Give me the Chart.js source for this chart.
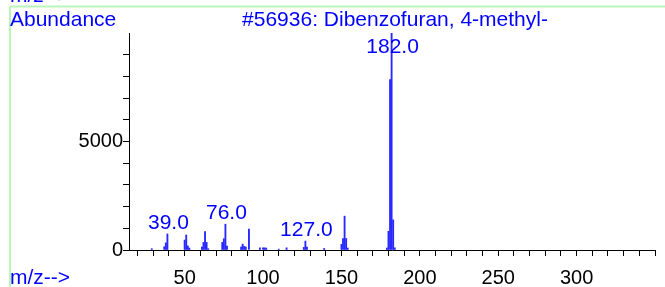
<!DOCTYPE html>
<html>
<head>
<meta charset="utf-8">
<script src="https://cdn.jsdelivr.net/npm/chart.js@4"></script>
<style>
    body { margin: 0; background: #fff; }
    canvas { display: block; }
</style>
</head>
<body>
<canvas id="msChart" width="665" height="287"></canvas>
<script>
// ============================================================
// DATA
// ============================================================
const mzValues  = [29, 37, 38, 39, 50, 51, 52, 53, 61, 62, 63, 64, 65, 74, 75, 76, 77,
                   86, 87, 88, 89, 91, 98, 100, 101, 102, 110, 115, 126, 127, 128, 139,
                   150, 151, 152, 153, 154, 179, 180, 181, 182, 183, 184];
const abundance = [60, 150, 330, 740, 460, 690, 190, 90, 140, 350, 850, 350, 60, 350, 520, 1190, 180,
                   140, 270, 170, 140, 960, 100, 100, 100, 90, 40, 100, 120, 410, 140, 70,
                   260, 530, 1560, 530, 90, 90, 860, 7850, 9999, 1390, 100];

const peakLabels = [39, 76, 127, 182];
const xTicks = [20, 30, 40, 50, 60, 70, 80, 90, 100, 110, 120, 130, 140, 150, 160, 170, 180,
                190, 200, 210, 220, 230, 240, 250, 260, 270, 280, 290, 300, 310, 320, 330, 340, 350];
const xTickLabels = [50, 100, 150, 200, 250, 300];
const yTicks = [0, 1000, 2000, 3000, 4000, 5000, 6000, 7000, 8000, 9000];
const yTickLabels = [0, 5000];

const compoundTitle = '#56936: Dibenzofuran, 4-methyl-';
const FONT = 'Liberation Sans, Arial, sans-serif';
const BLUE = '#0000ff';

// ============================================================
// TEXT + FRAME PLUGIN
// ============================================================
const decorPlugin = {
    id: 'decor',
    beforeDraw(chart) {
        const ctx = chart.ctx;
        ctx.save();
        ctx.strokeStyle = 'rgb(185, 245, 185)';
        ctx.lineWidth = 2;
        ctx.beginPath();
        ctx.moveTo(10, 6.5);
        ctx.lineTo(665, 6.5);
        ctx.moveTo(10, 6.5);
        ctx.lineTo(10, 287);
        ctx.stroke();
        ctx.restore();
    },
    afterDraw(chart) {
        const ctx = chart.ctx;
        const xs = chart.scales.x;
        const ys = chart.scales.y;
        ctx.save();
        ctx.fillStyle = BLUE;
        ctx.font = '21px ' + FONT;
        ctx.textBaseline = 'alphabetic';

        ctx.textAlign = 'left';
        ctx.fillText('m/z-->', 10, 2);
        ctx.fillText('Abundance', 10, 26);
        ctx.fillText('m/z-->', 10, 284);

        ctx.textAlign = 'center';
        ctx.fillText(compoundTitle, 395, 26);

        // peak labels
        peakLabels.forEach(m => {
            const i = mzValues.indexOf(m);
            if (i < 0) return;
            const px = xs.getPixelForValue(m);
            const py = ys.getPixelForValue(abundance[i]);
            ctx.fillText(m.toFixed(1), px + 1, Math.max(py - 5, 53));
        });
        ctx.restore();
    }
};

// ============================================================
// CHART
// ============================================================
new Chart(document.getElementById('msChart').getContext('2d'), {
    type: 'bar',
    data: {
        datasets: [{
            data: mzValues.map((m, i) => ({ x: m, y: abundance[i] })),
            backgroundColor: 'rgb(40, 40, 255)',
            borderWidth: 0,
            barThickness: 1.2
        }]
    },
    options: {
        responsive: false,
        animation: false,
        devicePixelRatio: 1,
        layout: { padding: { top: 33, right: 3, bottom: 0, left: 0 } },
        plugins: {
            legend: { display: false },
            tooltip: { enabled: false }
        },
        scales: {
            x: {
                type: 'linear',
                offset: false,
                min: 14.5,
                max: 350,
                afterBuildTicks: s => { s.ticks = xTicks.map(v => ({ value: v })); },
                afterFit: s => { s.height = 37; },
                ticks: {
                    autoSkip: false,
                    maxRotation: 0,
                    padding: 10,
                    color: '#000',
                    font: { family: FONT, size: 20 },
                    callback: v => xTickLabels.includes(v) ? String(v) : ''
                },
                grid: { offset: false, drawOnChartArea: false, drawTicks: true, tickLength: 6, color: '#000' },
                border: { color: '#000', width: 1 }
            },
            y: {
                min: 0,
                max: 10000,
                afterBuildTicks: s => { s.ticks = yTicks.map(v => ({ value: v })); },
                afterFit: s => { s.width = 129; },
                ticks: {
                    autoSkip: false,
                    padding: 0,
                    color: '#000',
                    font: { family: FONT, size: 20 },
                    callback: v => yTickLabels.includes(v) ? String(v) : ''
                },
                grid: { drawOnChartArea: false, drawTicks: true, tickLength: 6, color: '#000' },
                border: { color: '#000', width: 1 }
            }
        }
    },
    plugins: [decorPlugin]
});
</script>
</body>
</html>
